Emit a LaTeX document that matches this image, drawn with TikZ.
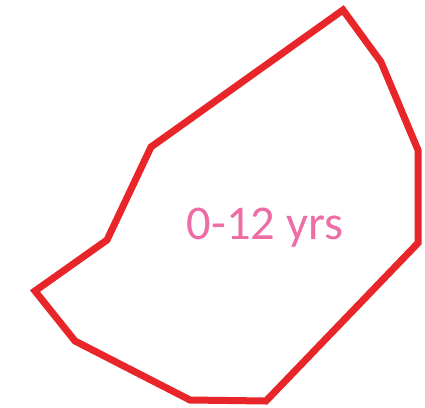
\documentclass[tikz,border=0pt]{standalone}
\usepackage{fontspec}
\setmainfont{Carlito}
\definecolor{polyred}{RGB}{232,38,42}
\definecolor{agepink}{RGB}{236,110,165}
\begin{document}
\begin{tikzpicture}[x=1pt,y=-1pt,
  outline/.style={draw=polyred,line width=7pt,line join=miter},
  agelabel/.style={text=agepink,font=\fontsize{48.5}{56}\selectfont,anchor=base,inner sep=0pt}]
\useasboundingbox (0,0) rectangle (425,407);
\coordinate (p1) at (343,10);
\coordinate (p2) at (381,62);
\coordinate (p3) at (418,150);
\coordinate (p4) at (418,243);
\coordinate (p5) at (266,401);
\coordinate (p6) at (190,400);
\coordinate (p7) at (75,341);
\coordinate (p8) at (35,291);
\coordinate (p9) at (107,240);
\coordinate (p10) at (151,147);
\draw[outline] (p1) -- (p2) -- (p3) -- (p4) -- (p5) -- (p6) -- (p7) -- (p8) -- (p9) -- (p10) -- cycle;
\node[agelabel] (lbl) at (265,239) {0-12 yrs};
\end{tikzpicture}
\end{document}
